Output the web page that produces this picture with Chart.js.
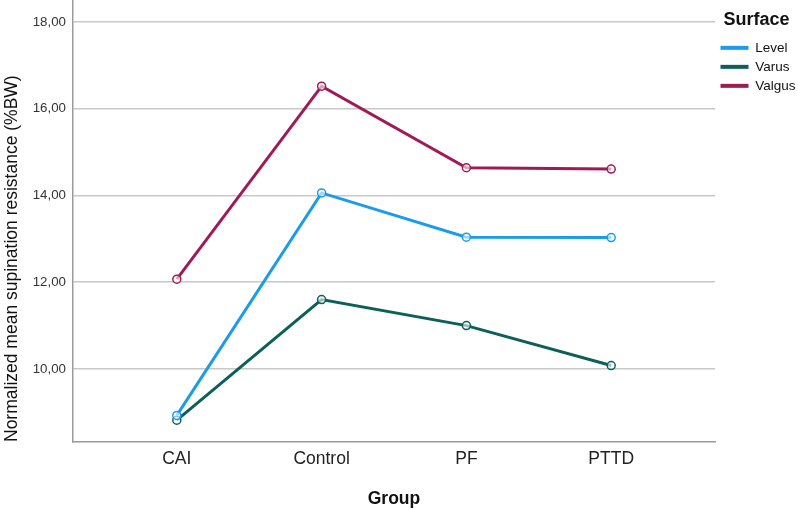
<!DOCTYPE html>
<html>
<head>
<meta charset="utf-8">
<script src="https://cdn.jsdelivr.net/npm/chart.js@4/dist/chart.umd.min.js"></script>
<style>
  html, body { margin: 0; padding: 0; background: #fff; }
  #wrap { width: 798px; height: 510px; }
</style>
</head>
<body>
<div id="wrap"><canvas id="chart" width="798" height="510"></canvas></div>
<script>
const groups = ['CAI', 'Control', 'PF', 'PTTD'];
const level  = [8.93, 14.06, 13.04, 13.03];
const varus  = [8.82, 11.60, 11.00, 10.08];
const valgus = [12.07, 16.52, 14.64, 14.61];
const yTicks = [10, 12, 14, 16, 18];

const FONT = 'Arial, "Liberation Sans", sans-serif';
const toPoints = (arr) => arr.map((v, i) => ({ x: i, y: v }));

function series(label, values, color) {
  return {
    label,
    data: toPoints(values),
    borderColor: color,
    backgroundColor: color,
    borderWidth: 3,
    pointRadius: 4,
    pointBorderWidth: 1.5,
    pointBackgroundColor: 'rgba(255,255,255,0.6)',
    pointBorderColor: color,
    tension: 0
  };
}

new Chart(document.getElementById('chart'), {
  type: 'line',
  data: {
    datasets: [
      series('Level',  level,  '#1c9be9'),
      series('Varus',  varus,  '#0d6059'),
      series('Valgus', valgus, '#a01a57')
    ]
  },
  options: {
    responsive: false,
    animation: false,
    layout: { autoPadding: false, padding: 0 },
    plugins: {
      tooltip: { enabled: false },
      legend: {
        position: 'right',
        align: 'start',
        maxWidth: 83,
        title: {
          display: true,
          text: 'Surface',
          position: 'center',
          color: '#111',
          font: { family: FONT, size: 18, weight: 'bold' },
          padding: { top: 11, bottom: 3 }
        },
        labels: {
          boxWidth: 28,
          boxHeight: 4,
          padding: 5.5,
          color: '#222',
          font: { family: FONT, size: 13.5 },
          generateLabels: (chart) => chart.data.datasets.map((d, i) => ({
            text: d.label,
            fillStyle: d.borderColor,
            strokeStyle: d.borderColor,
            lineWidth: 0,
            datasetIndex: i
          }))
        }
      }
    },
    scales: {
      x: {
        type: 'linear',
        min: -0.717,
        max: 3.717,
        afterBuildTicks: (s) => { s.ticks = groups.map((g, i) => ({ value: i })); },
        afterFit: (s) => { s.paddingLeft = 0; s.paddingRight = 0; s.height = 68; },
        ticks: {
          callback: (v) => groups[v],
          color: '#222',
          padding: 7,
          font: { family: FONT, size: 17.5 }
        },
        grid: { display: false, drawTicks: false },
        border: { display: true, color: '#999', width: 1.5 },
        title: {
          display: true,
          text: 'Group',
          color: '#111',
          padding: { top: 17, bottom: 0 },
          font: { family: FONT, size: 17.5, weight: 'bold' }
        }
      },
      y: {
        min: 8.317,
        max: 18.507,
        afterBuildTicks: (s) => { s.ticks = yTicks.map(v => ({ value: v })); },
        afterFit: (s) => { s.paddingTop = 0; s.paddingBottom = 0; s.width = 73; },
        ticks: {
          callback: (v) => v.toFixed(2).replace('.', ','),
          color: '#333',
          padding: 7,
          font: { family: FONT, size: 13.3 }
        },
        grid: { color: '#c8c8c8', lineWidth: 1.5, drawTicks: false },
        border: { display: true, color: '#999', width: 1.5 },
        title: {
          display: true,
          text: 'Normalized mean supination resistance (%BW)',
          align: 'start',
          color: '#111',
          padding: { top: 2, bottom: 10 },
          font: { family: FONT, size: 17.5 }
        }
      }
    }
  }
});
</script>
</body>
</html>
